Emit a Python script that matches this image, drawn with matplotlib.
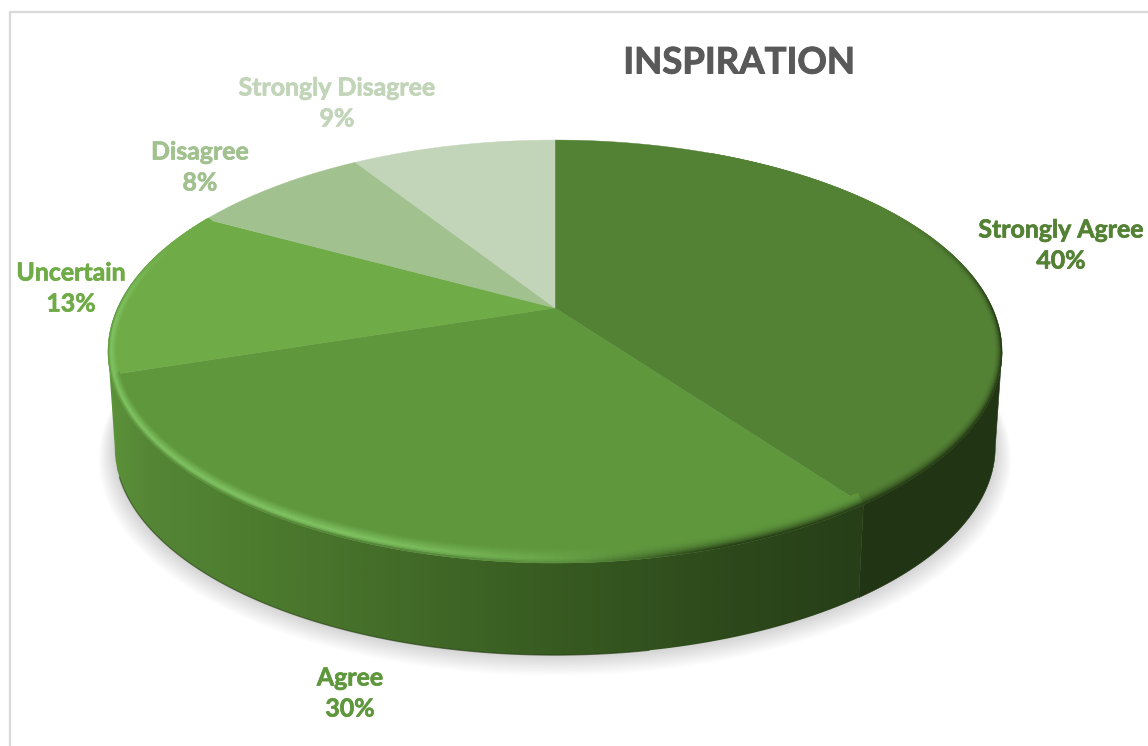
import numpy as np
import matplotlib
matplotlib.use("Agg")
import matplotlib.pyplot as plt
import matplotlib.patheffects as pe
from matplotlib.collections import PolyCollection
from matplotlib.colors import LinearSegmentedColormap, to_rgb
from matplotlib.patches import Polygon

# Survey answers, clockwise from twelve o'clock
categories = ["Strongly Agree", "Agree", "Uncertain", "Disagree", "Strongly Disagree"]
percents = [40, 30, 13, 8, 9]
colors = ["#548235", "#5f973d", "#6fab47", "#a1c28f", "#c2d5b9"]
title = "INSPIRATION"

# Label centres, in pixels
label_x = [1061, 350, 71, 200, 337]
label_y = [230, 678, 273, 152, 88]
label_gap = 31

# Perspective of the disc
cx = 555.0
top_y = 308.0
base_y = 404.0
base_scale = 0.985
k = 0.2057
a = 202.5
b = 437.4


def rim(t, y0=top_y, scale=1.0, fx=1.0, fy=1.0):
    # t is in degrees clockwise from the far side of the disc
    t = np.radians(t)
    u, v = np.sin(t), np.cos(t)
    d = 1 + k * v
    return cx + scale * fx * b * u / d, y0 - scale * fy * a * v / d


def smooth(x, lo, hi):
    s = np.clip((x - lo) / (hi - lo), 0, 1)
    return s * s * (3 - 2 * s)


side_stops = [(0.0, "#5c9239"), (0.05, "#558636"), (0.2, "#4c7b2e"), (0.4, "#426a28"),
              (0.6, "#375a21"), (0.8, "#2e4b1c"), (1.0, "#273e18")]
side_cmap = LinearSegmentedColormap.from_list("side", side_stops)


def side_color(x):
    return np.array(side_cmap(np.clip((x - 108) / (865 - 108), 0, 1))[:3])


fig = plt.figure(figsize=(11.48, 7.46), dpi=100)
ax = fig.add_axes([0, 0, 1, 1])

# Chart frame
ax.plot([9.5, 9.5, 1148], [746, 11.5, 11.5], color="#d9d9d9", lw=1.6, zorder=1)

# Soft shadow under the base
t_all = np.linspace(0, 360, 361)
for i in range(1, 15):
    x, y = rim(t_all, base_y + 0.8 * i, base_scale * (1 + 0.0026 * i))
    ax.add_patch(Polygon(np.c_[x, y], fc="black", ec="none", alpha=0.011, zorder=2))

# Slice angles
edges = np.cumsum([0] + percents) * 3.6
starts, ends = edges[:-1], edges[1:]


def wall(t0, t1):
    t = np.linspace(t0, t1, 200)
    x0, y0 = rim(t)
    x1, y1 = rim(t, base_y, base_scale)
    return np.r_[np.c_[x0, y0], np.c_[x1, y1][::-1]]


# Outer wall: the right slice is flat and dark, the front slice carries a gradient
ax.add_patch(Polygon(wall(101.9, ends[0]), fc="#213413", ec="#213413", lw=0.4, zorder=3))
ax.add_patch(Polygon(wall(ends[1] - 1, 258.1), fc="#5d943a", ec="none", zorder=3))
front = Polygon(wall(starts[1], ends[1]), fc="none", ec="none", zorder=3)
ax.add_patch(front)
grad = ax.imshow(np.linspace(0, 1, 512)[None, :], cmap=side_cmap, extent=[108, 865, 660, 350],
                 aspect="auto", zorder=3, interpolation="bilinear")
grad.set_clip_path(front)

# Thin dark line where the wall meets the floor
tb = np.linspace(170, 250, 120)
xb, yb = rim(tb, base_y, base_scale)
ax.plot(xb, yb, color="#22380f", lw=0.9, alpha=0.6, zorder=3.5)

# Top faces
for start, end, color in zip(starts, ends, colors):
    t = np.linspace(start, end, 240)
    x, y = rim(t)
    pts = np.r_[[[cx, top_y]], np.c_[x, y]]
    ax.add_patch(Polygon(pts, fc=color, ec=color, lw=0.3, zorder=4))

# Rounded bevel along the front rim of the top face
n_w = 10
polys, facecols = [], []
widths = np.linspace(0, 1, n_w + 1)
for start, end, color in zip(starts[:3], ends[:3], colors[:3]):
    face = np.array(to_rgb(color))
    t_edges = np.arange(max(start, 25), min(end, 300) + 0.5, 0.75)
    for t0, t1 in zip(t_edges[:-1], t_edges[1:]):
        tm = 0.5 * (t0 + t1)
        hl = smooth(tm, 165, 205) * (1 - smooth(tm, 265, 295))
        dark = smooth(tm, 55, 98) * (1 - smooth(tm, 160, 182))
        for w0, w1 in zip(widths[:-1], widths[1:]):
            wm = 0.5 * (w0 + w1)
            fx0, fy0 = 1 - 0.019 * (1 - w0), 1 - 0.058 * (1 - w0)
            fx1, fy1 = 1 - 0.019 * (1 - w1), 1 - 0.058 * (1 - w1)
            xa, ya = rim(np.array([t0, t1]), fx=fx0, fy=fy0)
            xc, yc = rim(np.array([t1, t0]), fx=fx1, fy=fy1)
            polys.append(np.c_[np.r_[xa, xc], np.r_[ya, yc]])
            wallc = side_color(xa[0]) if tm > starts[1] else np.array(to_rgb("#213413"))
            hlc = np.array(to_rgb("#80c362"))
            if wm < 0.65:
                c = face + (hlc - face) * hl * (wm / 0.65)
            else:
                peak = face + (hlc - face) * hl
                c = peak + (wallc - peak) * hl * ((wm - 0.65) / 0.35) ** 2
            c = c + (np.array(to_rgb("#213413")) - c) * dark * wm ** 2.5
            facecols.append(np.clip(c, 0, 1))
ax.add_collection(PolyCollection(polys, facecolors=facecols, edgecolors=facecols, linewidths=0.4, zorder=5))

# Labels, thickened a little with a stroke of their own colour
for name, pct, color, x, y in zip(categories, percents, colors, label_x, label_y):
    for s, yy in ((name, y), (f"{pct}%", y + label_gap)):
        ax.text(x, yy, s, color=color, family="Lato", weight="bold", fontsize=17.9,
                ha="center", va="center", zorder=6,
                path_effects=[pe.withStroke(linewidth=0.5, foreground=color)])

ax.text(739, 63, title, color="#595959", family="Lato", weight="bold", fontsize=26.3,
        ha="center", va="center", zorder=6,
        path_effects=[pe.withStroke(linewidth=0.7, foreground="#595959")])

ax.set_xlim(0, 1148)
ax.set_ylim(746, 0)
ax.axis("off")

fig.savefig("out.png", dpi=100, facecolor="white")
